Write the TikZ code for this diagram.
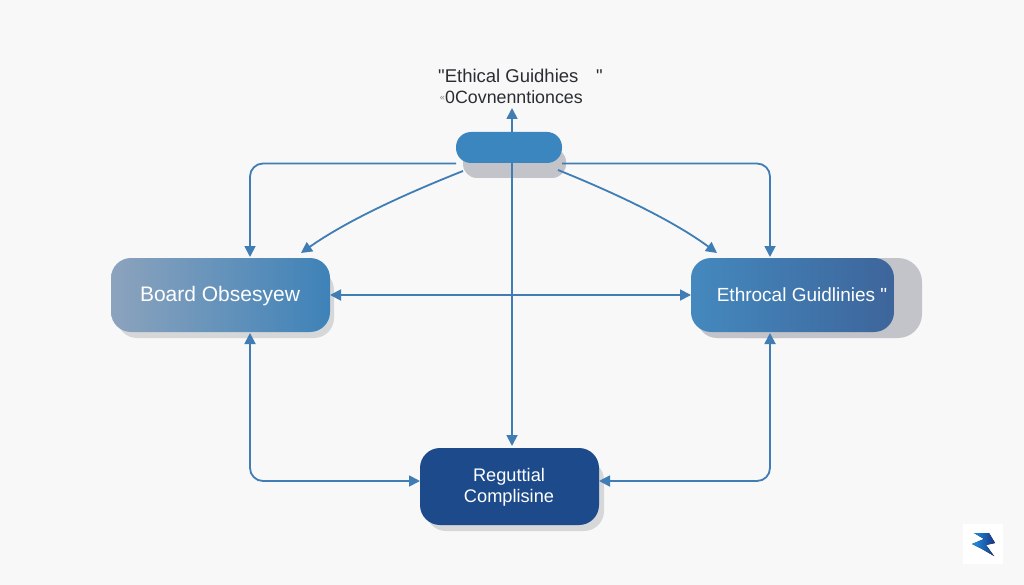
\documentclass[tikz,border=0pt]{standalone}
\usepackage{fontspec}
\setmainfont{Liberation Sans}[Ligatures=TeXOff]
\usetikzlibrary{arrows.meta,calc}
\definecolor{pagebg}{HTML}{F8F8F8}
\definecolor{linkblue}{HTML}{3F7DB4}
\definecolor{shadowgrey}{HTML}{C2C4C9}
\definecolor{softshadow}{HTML}{D6D7D9}
\definecolor{inkdark}{HTML}{2A2D33}
\pgfdeclarelayer{pagefill}
\pgfdeclarelayer{shadows}
\pgfdeclarelayer{links}
\pgfsetlayers{pagefill,shadows,links,main}
\tikzset{
  x=1pt,y=-1pt,
  box/.style={draw=none,inner sep=0pt,outer sep=0pt,rounded corners=20pt},
  link/.style={draw=linkblue,line width=1.8pt,rounded corners=13pt},
  arrowed/.style={link,-{Triangle[length=11pt,width=11pt]}},
  both/.style={link,{Triangle[length=11pt,width=11pt]}-{Triangle[length=11pt,width=11pt]}},
  boxlabel/.style={text=white,font=\fontsize{19}{21}\selectfont,align=center,inner sep=0pt},
  toplabel/.style={text=inkdark,font=\fontsize{18.5}{22}\selectfont,inner sep=0pt}
}
\begin{document}
\begin{tikzpicture}
\useasboundingbox (0,0) rectangle (1024,585);
% boxes
\node[box,rounded corners=15pt,fill={rgb,255:red,60;green,134;blue,192},minimum width=106pt,minimum height=31pt] (top) at (509,147.5) {};
\node[box,left color={rgb,255:red,140;green,163;blue,189},right color={rgb,255:red,62;green,130;blue,184},minimum width=219pt,minimum height=74pt] (left) at (220.5,295) {};
\node[box,left color={rgb,255:red,68;green,137;blue,190},right color={rgb,255:red,61;green,101;blue,155},minimum width=203pt,minimum height=74pt] (right) at (792.5,295) {};
\node[box,fill={rgb,255:red,28;green,74;blue,138},minimum width=179pt,minimum height=77pt] (bottom) at (509.5,486.5) {};
% labels
\node[boxlabel,font=\fontsize{21}{23}\selectfont] (leftlabel) at (220,296) {Board Obsesyew};
\node[boxlabel] (rightlabel) at (802,295) {Ethrocal Guidlinies "};
\node[boxlabel,font=\fontsize{18.2}{21}\selectfont] (bottomlabel) at (509,487) {Reguttial\\Complisine};
\node[toplabel,anchor=west] (titleone) at (438,76) {"Ethical Guidhies};
\node[toplabel,anchor=west] (titlequote) at (596,76) {"};
\node[toplabel,anchor=west,font=\fontsize{17.8}{22}\selectfont] (titletwo) at (445,97) {0Covnenntionces};
\node[text=gray,font=\fontsize{9}{10}\selectfont,inner sep=0pt,anchor=east] (titlemark) at (445,98) {«};
% free ends
\coordinate (topout) at (512,108);
\begin{pgfonlayer}{pagefill}
\fill[pagebg] (0,0) rectangle (1024,585);
\end{pgfonlayer}
\begin{pgfonlayer}{shadows}
\fill[shadowgrey,rounded corners=14pt] (463,148) rectangle (566,178);
\fill[softshadow,rounded corners=20pt] (117,270) rectangle (334,338);
\fill[shadowgrey,rounded corners=24pt] (720,258) rectangle (922,338);
\fill[shadowgrey,rounded corners=20pt] (697,280) rectangle (800,338);
\fill[softshadow,rounded corners=20pt] (426,460) rectangle (604,531);
\end{pgfonlayer}
\begin{pgfonlayer}{links}
\draw[arrowed] (512,132) -- (topout);
\draw[arrowed] (512,163) -- (512,446);
\draw[arrowed] (top.west |- 0,163.5) -- (250,163.5) -- (250,257);
\draw[arrowed] (top.east |- 0,163.5) -- (770,163.5) -- (770,257);
\draw[arrowed,rounded corners=0pt] (463,171) .. controls (400,196) and (345,222) .. (301,253);
\draw[arrowed,rounded corners=0pt] (558,170) .. controls (620,195) and (675,222) .. (717,253);
\draw[both] (left.east) -- (right.west);
\draw[both] (250,333) -- (250,481) -- (bottom.west |- 0,481);
\draw[both] (770,333) -- (770,481) -- (bottom.east |- 0,481);
\end{pgfonlayer}
% logo
\node[fill=white,minimum size=40pt,inner sep=0pt] (logo) at (983,544) {};
\fill[left color={rgb,255:red,30;green,150;blue,230},right color={rgb,255:red,25;green,50;blue,130}]
  (974,533) -- (989,533) -- (995,543) -- (986,545) -- (994,556) -- (982,549) -- (972,544) -- (984,539) -- cycle;
\end{tikzpicture}
\end{document}
